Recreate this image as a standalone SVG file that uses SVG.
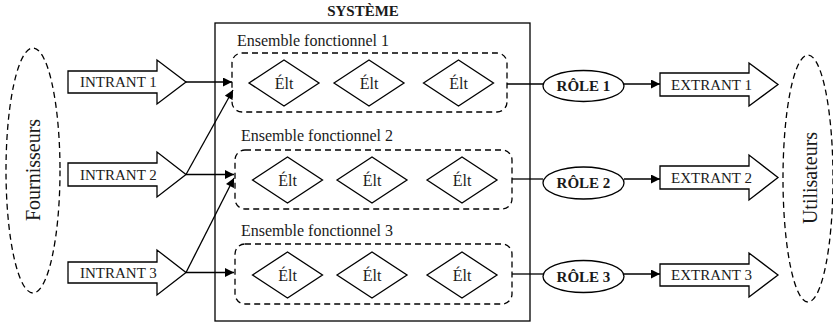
<svg xmlns="http://www.w3.org/2000/svg" width="833" height="324" viewBox="0 0 833 324">
<style>
text{font-family:"Liberation Serif","Times New Roman",serif;fill:#1a1a1a}
.t{font-size:15px}
.b{font-size:15px;font-weight:bold}
.e{font-size:16px}
.big{font-size:20px}
.sh{fill:#fff;stroke:#000;stroke-width:1.3}
.dash{fill:none;stroke:#000;stroke-width:1.3;stroke-dasharray:6 4}
.ln{fill:none;stroke:#000;stroke-width:1.3}
</style>
<defs>
<marker id="ah" viewBox="0 0 10 10" refX="10" refY="5" markerWidth="10" markerHeight="9" markerUnits="userSpaceOnUse" orient="auto">
<path d="M0,0 L10,5 L0,10 Z" fill="#000"/>
</marker>
</defs>
<rect width="833" height="324" fill="#fff"/>

<g id="fournisseurs">
<ellipse class="dash" cx="33" cy="170.5" rx="27" ry="122.5"/>
<text class="big" text-anchor="middle" transform="translate(40,170) rotate(-90)">Fournisseurs</text>
</g>
<g id="utilisateurs">
<ellipse class="dash" cx="808" cy="178.5" rx="25" ry="123.5"/>
<text class="big" text-anchor="middle" transform="translate(817,178) rotate(-90)">Utilisateurs</text>
</g>

<g id="intrant1">
<path class="sh" d="M68,71 H157 V60 L186,82 L157,104 V93 H68 Z"/>
<text class="t" x="80" y="87">INTRANT 1</text>
</g>
<g id="intrant2">
<path class="sh" d="M68,163 H157 V152 L186,174.5 L157,197 V186 H68 Z"/>
<text class="t" x="80" y="179.5">INTRANT 2</text>
</g>
<g id="intrant3">
<path class="sh" d="M68,262 H157 V250 L186,272.5 L157,295 V283 H68 Z"/>
<text class="t" x="80" y="277.5">INTRANT 3</text>
</g>

<g id="systeme">
<rect class="ln" x="215" y="23" width="315" height="298"/>
<text class="b" x="363" y="16" text-anchor="middle">SYSTÈME</text>
</g>

<g id="ensemble1">
<text class="e" x="237" y="46">Ensemble fonctionnel 1</text>
<rect class="dash" x="232" y="53" width="275" height="59" rx="10"/>
<path class="sh" d="M249,83 L284,60 L319,83 L284,106 Z"/>
<text class="e" x="284" y="89" text-anchor="middle">Élt</text>
<path class="sh" d="M334,83 L369,60 L404,83 L369,106 Z"/>
<text class="e" x="369" y="89" text-anchor="middle">Élt</text>
<path class="sh" d="M423.5,83 L458.5,60 L493.5,83 L458.5,106 Z"/>
<text class="e" x="458.5" y="89" text-anchor="middle">Élt</text>
</g>
<g id="ensemble2">
<text class="e" x="241" y="141">Ensemble fonctionnel 2</text>
<rect class="dash" x="235" y="150" width="277" height="59" rx="10"/>
<path class="sh" d="M252.5,180 L287.5,157 L322.5,180 L287.5,203 Z"/>
<text class="e" x="287.5" y="186" text-anchor="middle">Élt</text>
<path class="sh" d="M337,180 L372,157 L407,180 L372,203 Z"/>
<text class="e" x="372" y="186" text-anchor="middle">Élt</text>
<path class="sh" d="M427,180 L462,157 L497,180 L462,203 Z"/>
<text class="e" x="462" y="186" text-anchor="middle">Élt</text>
</g>
<g id="ensemble3">
<text class="e" x="241" y="236">Ensemble fonctionnel 3</text>
<rect class="dash" x="235" y="244" width="277" height="60" rx="10"/>
<path class="sh" d="M252.5,275 L287.5,252 L322.5,275 L287.5,298 Z"/>
<text class="e" x="287.5" y="281" text-anchor="middle">Élt</text>
<path class="sh" d="M337,275 L372,252 L407,275 L372,298 Z"/>
<text class="e" x="372" y="281" text-anchor="middle">Élt</text>
<path class="sh" d="M427,275 L462,252 L497,275 L462,298 Z"/>
<text class="e" x="462" y="281" text-anchor="middle">Élt</text>
</g>

<g id="role1">
<ellipse class="sh" cx="583.5" cy="86" rx="40.5" ry="15.5"/>
<text class="b" x="583.5" y="91" text-anchor="middle">RÔLE 1</text>
</g>
<g id="role2">
<ellipse class="sh" cx="583.5" cy="183" rx="40.5" ry="16"/>
<text class="b" x="583.5" y="188" text-anchor="middle">RÔLE 2</text>
</g>
<g id="role3">
<ellipse class="sh" cx="583.5" cy="276.5" rx="40.5" ry="16"/>
<text class="b" x="583.5" y="281.5" text-anchor="middle">RÔLE 3</text>
</g>

<g id="extrant1">
<path class="sh" d="M660,73 H749 V63 L778,84.5 L749,106 V96 H660 Z"/>
<text class="t" x="671" y="89.5">EXTRANT 1</text>
</g>
<g id="extrant2">
<path class="sh" d="M660,166 H749 V155 L778,177.5 L749,200 V189 H660 Z"/>
<text class="t" x="671" y="182.5">EXTRANT 2</text>
</g>
<g id="extrant3">
<path class="sh" d="M660,264 H749 V253 L778,275 L749,297 V286 H660 Z"/>
<text class="t" x="671" y="280">EXTRANT 3</text>
</g>

<g id="connectors">
<path class="ln" d="M186,82 H232" marker-end="url(#ah)"/>
<path class="ln" d="M186,174.5 L233,90" marker-end="url(#ah)"/>
<path class="ln" d="M186,174.5 H234" marker-end="url(#ah)"/>
<path class="ln" d="M186,272.5 L234,178" marker-end="url(#ah)"/>
<path class="ln" d="M186,272.5 H234" marker-end="url(#ah)"/>
<path class="ln" d="M507,84 H543"/>
<path class="ln" d="M512,179 H543"/>
<path class="ln" d="M512,274 H543"/>
<path class="ln" d="M624,84 H660" marker-end="url(#ah)"/>
<path class="ln" d="M624,179 H660" marker-end="url(#ah)"/>
<path class="ln" d="M624,274 H660" marker-end="url(#ah)"/>
</g>
</svg>
